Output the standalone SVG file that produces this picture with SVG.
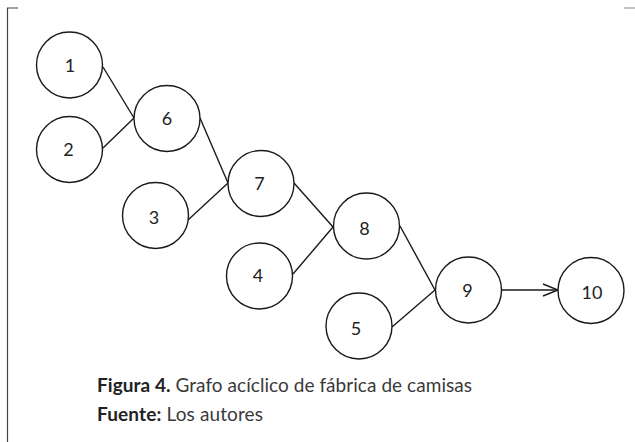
<svg xmlns="http://www.w3.org/2000/svg" width="635" height="442" viewBox="0 0 635 442">
<style>
.n circle{fill:#fff;stroke:#1a1a1a;stroke-width:1.4}
.n text{font-family:Lato,"Open Sans","Liberation Sans",sans-serif;font-size:18px;fill:#222;text-anchor:middle;dominant-baseline:central}
.e line{stroke:#1a1a1a;stroke-width:1.4}
.cap{font-family:Lato,"Open Sans","Liberation Sans",sans-serif;font-size:19px;fill:#3a3a3a}
.b{font-weight:bold;fill:#222}
</style>
<defs>
<marker id="ah" markerWidth="18" markerHeight="14" refX="16" refY="7" orient="auto" markerUnits="userSpaceOnUse">
<path d="M1,1 L16,7 L1,13" fill="none" stroke="#1a1a1a" stroke-width="1.4"/>
</marker>
</defs>
<rect width="635" height="442" fill="#fff"/>
<g id="frame" stroke="#444" stroke-width="1.2" fill="none">
<path d="M18,8 H7.5 V442"/>
<path d="M624,8 H635" stroke="#999"/>
</g>
<g id="connectors" class="e">
<line x1="103" y1="67" x2="134" y2="118"/>
<line x1="103" y1="148" x2="134" y2="118"/>
<line x1="200" y1="118" x2="228" y2="183"/>
<line x1="188" y1="220" x2="228" y2="183"/>
<line x1="294" y1="183" x2="333" y2="227"/>
<line x1="293" y1="274" x2="333" y2="227"/>
<line x1="400" y1="226" x2="435" y2="290"/>
<line x1="392" y1="327" x2="435" y2="290"/>
<line x1="502" y1="290" x2="558" y2="290" marker-end="url(#ah)"/>
</g>
<g id="n1" class="n"><circle cx="69.5" cy="65" r="33"/><text x="70" y="65">1</text></g>
<g id="n2" class="n"><circle cx="69.5" cy="149.5" r="33"/><text x="68.5" y="149">2</text></g>
<g id="n6" class="n"><circle cx="167" cy="118.5" r="33"/><text x="167" y="118">6</text></g>
<g id="n3" class="n"><circle cx="155.5" cy="215.5" r="33"/><text x="154" y="217">3</text></g>
<g id="n7" class="n"><circle cx="261" cy="183.5" r="33"/><text x="259.5" y="183">7</text></g>
<g id="n4" class="n"><circle cx="259.5" cy="276" r="33"/><text x="258" y="275">4</text></g>
<g id="n8" class="n"><circle cx="366.5" cy="226" r="33"/><text x="364.5" y="228">8</text></g>
<g id="n5" class="n"><circle cx="359" cy="326" r="33"/><text x="356" y="328">5</text></g>
<g id="n9" class="n"><circle cx="468.5" cy="290" r="33"/><text x="467.5" y="290">9</text></g>
<g id="n10" class="n"><circle cx="591" cy="290.5" r="33"/><text x="592" y="292">10</text></g>
<g id="caption">
<text class="cap" x="97" y="392" textLength="375" lengthAdjust="spacing"><tspan class="b">Figura 4.</tspan> Grafo acíclico de fábrica de camisas</text>
<text class="cap" x="97" y="421" textLength="166" lengthAdjust="spacing"><tspan class="b">Fuente:</tspan> Los autores</text>
</g>
</svg>
